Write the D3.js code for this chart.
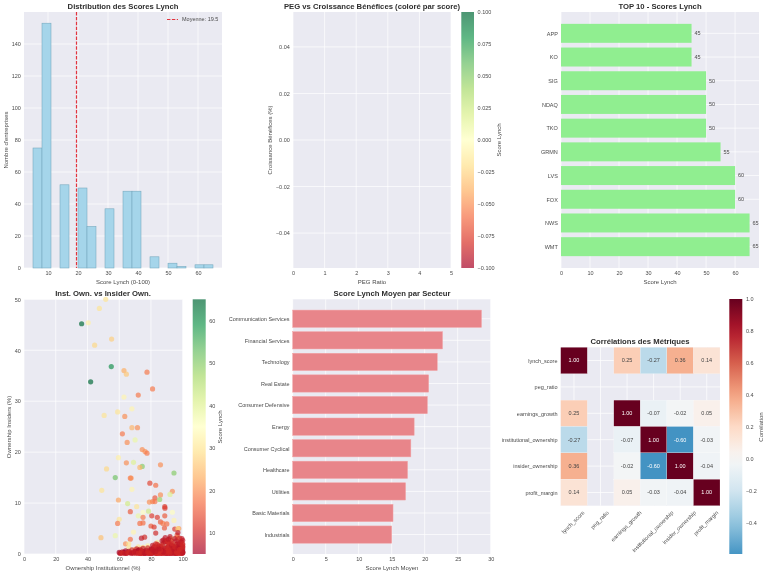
<!DOCTYPE html>
<html><head><meta charset="utf-8">
<script src="https://cdn.jsdelivr.net/npm/d3@7"></script>
<style>
html,body{margin:0;padding:0;background:#fff}
svg{display:block;filter:blur(0.3px)}
text{font-family:"Liberation Sans",Arial,sans-serif;fill:#444}
.title{font-weight:bold;fill:#2e2e2e;font-size:7.7px;text-anchor:middle}
.lab{font-size:6px;text-anchor:middle;fill:#4a4a4a}
.tick text{font-size:5.5px;fill:#4a4a4a}
</style></head><body>
<svg id="c" width="768" height="575"></svg>
<script>
// Histogram
const histEdges=[5,8,11,14,17,20,23,26,29,32,35,38,41,44,47,50,53,56,59,62,65];
const histCounts=[75,153,0,52,0,50,26,0,37,0,48,48,0,7,0,3,1,0,2,2];
const meanScore=19.5;
// Top 10
const topTickers=["WMT","NWS","FOX","LVS","GRMN","TKO","NDAQ","SIG","KO","APP"];
const topScores=[65,65,60,60,55,50,50,50,45,45];
// Sectors
const sectors=["Industrials","Basic Materials","Utilities","Healthcare","Consumer Cyclical","Energy","Consumer Defensive","Real Estate","Technology","Financial Services","Communication Services"];
const sectorScores=[15.0,15.2,17.1,17.4,17.9,18.4,20.4,20.6,21.9,22.7,28.6];
// Scatter: institutional %, insider %, score
const instOwn=[36.3,40.5,47.5,51.5,55.2,44.5,55,42,63,64.5,
77.5,81,72,63,68,59,50.5,63.5,68,71.5,
62,65,70,74.5,76.3,77.5,59.5,64.5,69,74.5,
73,86,52,57.5,67,67.5,94.5,79.3,83,49,
68,93.5,92,86,82.5,81,79,82.5,59.5,85.5,
65.3,71,88.7,88.8,67,78.5,75,93.5,72,75,
80.5,84,88.7,86,87.5,94.5,60,59,73,75,
90,80,82,88.5,95,97.5,97,69,83,96.5,
96.5,48.5,57.5,74,76,67,92,99.5,64,66,
72,75,78,84,88,93,95,70,66,97,
60,61,62,63,64,65,66,67,68,69,
70,71,72,73,74,75,76,77,78,79,
80,81,82,83,84,85,86,87,88,89,
90,91,92,93,94,95,96,97,98,99,
80.5,82.5,84.5,86.5,88.5,90.5,92.5,94.5,96.5,98.5,
100,99.5,99,98,97,96,95,94,93,92,
91,90,89,88,87,86,85,84,83,82,
81,80,79,78,77,76,75,74,73,72,
100,100,100,100,99,99,98,97,96,95,
60.5,62.5,64.5,66.5,68.5,70.5,72.5,74.5,76.5,78.5,
61.5,63.5,65.5,67.5,69.5,71.5,73.5,75.5,77.5,79.5,
80,82,84,86,88,90,92,94,96,98,
81,83,85,87,89,91,93,95,97,99,
80.5,82.5,84.5,86.5,88.5,90.5,92.5,94.5,96.5,98.5,
81.5,83.5,85.5,87.5,89.5,91.5,93.5,95.5,97.5,99.5,
70,72,74,76,78,80,82,84,86,88,
90,92,94,96,98,100,91,93,95,97,
99,100,98,96,94,92,90,88,86,84,
85,87,89,91,93,95,97,99,100,98,
88,89,90,91,92,93,95,96,97,98,
99,100,87,86,85,84,83,82,81,100];
const insiderOwn=[45.2,45.4,48.2,50,42.2,41,36.8,33.8,36,35.3,
35.7,32.4,31.2,30.8,28.5,27.9,27.2,27,24.8,24.8,
23.6,21.9,22.4,20.5,20.1,19.8,18.9,17.9,18,17.2,
17,17.5,16.7,15,14.9,14.9,15.9,13.9,13.5,12.5,
12.7,12.3,11.7,11.6,11,10.3,10.2,10.3,10.6,10.7,
9.9,9.3,9.3,9,8.3,8.4,8.2,8.2,7.5,7.2,
7.5,7.2,7.5,6.3,6,6.6,6.8,6,6,6.1,
5.9,5.5,5.3,5.1,4.9,5,5,4.3,4.1,3.7,
3.2,3.2,3.6,3.1,3.3,2.9,3,3,2,2,
1.4,1.3,1.6,2.3,1.9,3,2,0.9,1.2,1.3,
0.3,0.2,0.4,0.3,0.6,0.2,0.5,0.3,0.8,0.2,
0.5,1,0.3,0.9,0.3,1.1,0.5,0.2,1.2,0.6,
0.4,1.7,0.9,2,0.3,0.8,1.4,0.3,2.2,0.7,
0.3,1.5,0.9,2.6,0.4,1.2,0.2,2.2,0.7,1.6,
1,0.2,1.3,0.6,1.2,2.3,0.2,0.8,1.4,0.3,
0.2,0.8,0.1,1.9,0.5,1.9,0.1,1.6,0.4,1.9,
0.1,1.2,0.1,0.5,1,0.1,0.4,1.1,0.2,1.3,
0.2,0.9,0.1,0.3,0.7,0.1,0.2,0.6,0.1,0.7,
1,1.8,2.7,0.5,0.4,2.4,1.2,1,0.7,0.4,
0.1,0.2,0.1,0.3,0.2,0.1,0.4,0.1,0.2,0.1,
0.2,0.1,0.3,0.1,0.4,0.2,0.1,0.3,0.2,0.4,
0.1,0.3,0.1,0.5,0.2,0.1,0.6,0.2,0.1,0.4,
0.7,0.2,0.9,0.1,0.4,0.8,0.2,0.6,0.1,0.9,
0.1,0.5,0.2,0.9,0.3,0.6,0.1,1.1,0.3,0.8,
0.6,0.1,0.8,0.2,1.2,0.4,1,0.2,0.7,0.1,
0.4,0.2,0.5,0.2,0.4,0.2,0.5,0.3,0.2,0.4,
0.2,0.5,0.2,0.4,0.2,0.3,1.3,1.1,0.9,0.2,
0.5,1.4,0.3,0.6,1.1,0.2,0.6,0.4,0.7,0.2,
1.6,1.8,2.4,2.2,1.7,1.4,1.2,0.9,0.3,0.9,
2.8,3.2,2.6,2.9,3.4,2.1,3,2.6,4.2,3.1,
2.4,2,2.6,1.5,1,1.9,0.5,1.5,0.8,1.4];
const lynchScore=[65,32,30,30,27,28,60,65,23,26,
18,18,18,33,33,30,30,20,24,20,
18,20,38,20,20,18,32,20,40,50,
24,20,28,52,18,20,50,13,17,30,
33,20,40,20,15,18,20,18,22,48,
42,30,12,12,15,42,35,35,38,18,
12,12,15,15,18,33,30,18,17,17,
17,15,12,15,12,20,28,33,10,14,
18,25,38,8,10,17,8,8,20,30,
30,28,32,30,35,28,25,25,30,25,
5,5,8,5,5,8,5,5,10,5,
5,8,5,10,5,8,5,5,10,5,
5,8,5,10,5,8,10,5,8,5,
5,8,5,10,5,5,5,8,5,8,
5,5,8,5,5,10,5,8,5,5,
5,5,5,8,5,8,5,8,5,10,
5,8,5,5,8,5,5,8,5,8,
5,8,5,5,8,5,5,8,5,5,
8,10,8,5,5,10,8,5,5,5,
8,10,8,10,8,10,8,10,8,10,
10,8,10,8,10,8,10,8,10,8,
10,10,8,10,10,8,10,10,8,10,
10,8,10,10,8,10,10,8,10,10,
8,10,10,8,10,10,8,10,10,8,
10,10,8,10,10,8,10,10,8,10,
8,10,10,8,10,10,8,10,10,8,
10,10,8,10,10,8,10,10,8,10,
10,8,10,10,8,10,10,8,10,10,
8,10,8,10,8,10,8,10,8,10,
8,8,10,8,8,10,8,8,8,10,
8,10,8,10,8,10,8,10,8,10];
// Correlations
const metrics=["lynch_score","peg_ratio","earnings_growth","institutional_ownership","insider_ownership","profit_margin"];
const corrMatrix=[[1,null,0.25,-0.27,0.36,0.14],[null,null,null,null,null,null],[0.25,null,1,-0.07,-0.02,0.05],[-0.27,null,-0.07,1,-0.60,-0.03],[0.36,null,-0.02,-0.60,1,-0.04],[0.14,null,0.05,-0.03,-0.04,1]];
// Colormaps
const rdYlGnStops=["#a50026","#d73027","#f46d43","#fdae61","#fee08b","#ffffbf","#d9ef8b","#a6d96a","#66bd63","#1a9850","#006837"];
const rdBuRStops=["#053061","#2166ac","#4393c3","#92c5de","#d1e5f0","#f7f7f7","#fddbc7","#f4a582","#d6604d","#b2182b","#67001f"];

const svg=d3.select("#c");
const defs=svg.append("defs");
const BG="#EAEAF2";
const rdYlGn=d3.piecewise(d3.interpolateRgb,rdYlGnStops);
const rdBuR=d3.piecewise(d3.interpolateRgb,rdBuRStops);
let gid=0;

function panel(b,xs,ys,xt,yt,xf,yf){
  const g=svg.append("g");
  g.append("rect").attr("x",b.l).attr("y",b.t).attr("width",b.r-b.l).attr("height",b.b-b.t).attr("fill",BG);
  g.append("g").selectAll("line").data(xt).join("line").attr("x1",xs).attr("x2",xs).attr("y1",b.t).attr("y2",b.b).attr("stroke","#fff").attr("stroke-width",.7);
  g.append("g").selectAll("line").data(yt).join("line").attr("y1",ys).attr("y2",ys).attr("x1",b.l).attr("x2",b.r).attr("stroke","#fff").attr("stroke-width",.7);
  const ax=g.append("g").attr("class","xaxis").attr("transform",`translate(0,${b.b})`).call(d3.axisBottom(xs).tickValues(xt).tickSize(0).tickPadding(3).tickFormat(xf||d3.format("d")));
  const ay=g.append("g").attr("transform",`translate(${b.l},0)`).call(d3.axisLeft(ys).tickValues(yt).tickSize(0).tickPadding(3.2).tickFormat(yf||d3.format("d")));
  ax.select(".domain").remove(); ay.select(".domain").remove();
  return g;
}
function title(x,y,t){svg.append("text").attr("class","title").attr("x",x).attr("y",y).attr("dy","0.35em").text(t);}
function xlabel(x,y,t){svg.append("text").attr("class","lab").attr("x",x).attr("y",y).attr("dy","0.35em").text(t);}
function ylabel(x,y,t){svg.append("text").attr("class","lab").attr("transform",`translate(${x},${y}) rotate(-90)`).attr("dy","0.35em").text(t);}
function colorbar(x0,x1,t,b,dom,cfn,ticks,fmt,op){
  const id="g"+(gid++);
  const lg=defs.append("linearGradient").attr("id",id).attr("x1",0).attr("x2",0).attr("y1",1).attr("y2",0);
  d3.range(0,1.0001,0.05).forEach(u=>lg.append("stop").attr("offset",u).attr("stop-color",cfn(dom[0]+u*(dom[1]-dom[0]))));
  svg.append("rect").attr("x",x0).attr("y",t).attr("width",x1-x0).attr("height",b-t).attr("fill",`url(#${id})`).attr("opacity",op);
  const s=d3.scaleLinear().domain(dom).range([b,t]);
  const a=svg.append("g").attr("transform",`translate(${x1},0)`).call(d3.axisRight(s).tickValues(ticks).tickSize(0).tickPadding(3.6).tickFormat(fmt));
  a.select(".domain").remove();
}

// 1. Histogram
{
  const b={l:24,r:222,t:12,b:268};
  const x=d3.scaleLinear().domain([2,68]).range([b.l,b.r]);
  const y=d3.scaleLinear().domain([0,160]).range([b.b,b.t]);
  const g=panel(b,x,y,[10,20,30,40,50,60],[0,20,40,60,80,100,120,140]);
  g.append("g").selectAll("rect").data(histCounts).join("rect")
   .attr("x",(d,i)=>x(histEdges[i])).attr("width",(d,i)=>x(histEdges[i+1])-x(histEdges[i]))
   .attr("y",d=>y(d)).attr("height",d=>y(0)-y(d))
   .attr("fill","#A5D5EA").attr("stroke","#74A6BC").attr("stroke-width",.55);
  g.append("line").attr("x1",x(meanScore)).attr("x2",x(meanScore)).attr("y1",b.t).attr("y2",b.b).attr("stroke","#E2343F").attr("stroke-width",1.2).attr("stroke-dasharray","3.4,1.5");
  g.append("line").attr("x1",167).attr("x2",178).attr("y1",19.5).attr("y2",19.5).attr("stroke","#E2343F").attr("stroke-width",1.2).attr("stroke-dasharray","3.4,1.5");
  g.append("text").attr("x",182).attr("y",19.5).attr("dy","0.35em").style("font-size","5.5px").style("fill","#4a4a4a").text("Moyenne: "+meanScore);
  title(123,6.7,"Distribution des Scores Lynch");
  xlabel(123,281.7,"Score Lynch (0-100)");
  ylabel(6,140,"Nombre d'entreprises");
}
// 2. Empty scatter
{
  const b={l:293,r:451,t:12,b:268};
  const x=d3.scaleLinear().domain([0,5]).range([b.l,b.r]);
  const y=d3.scaleLinear().domain([-0.055,0.055]).range([b.b,b.t]);
  panel(b,x,y,[0,1,2,3,4,5],[-0.04,-0.02,0,0.02,0.04],null,d3.format(".2f"));
  const c=d3.scaleLinear().domain([-0.1,0.1]).range([0,1]);
  colorbar(461.3,474,12,268,[-0.1,0.1],v=>rdYlGn(c(v)),[-0.1,-0.075,-0.05,-0.025,0,0.025,0.05,0.075,0.1],d3.format(".3f"),.7);
  title(372,6.7,"PEG vs Croissance Bénéfices (coloré par score)");
  xlabel(372,281.7,"PEG Ratio");
  ylabel(269.8,140,"Croissance Bénéfices (%)");
  ylabel(498.5,140,"Score Lynch");
}
// 3. Top 10
{
  const b={l:561,r:759,t:12,b:268};
  const x=d3.scaleLinear().domain([0,68.25]).range([b.l,b.r]);
  const y=d3.scaleLinear().domain([-0.9,9.9]).range([b.b,b.t]);
  const g=panel(b,x,y,[0,10,20,30,40,50,60],d3.range(10),null,i=>topTickers[i]);
  g.append("g").selectAll("rect").data(topScores).join("rect")
   .attr("x",x(0)).attr("width",d=>x(d)-x(0)).attr("y",(d,i)=>y(i+0.4)).attr("height",(d,i)=>y(i-0.4)-y(i+0.4)).attr("fill","#90EE90");
  g.append("g").selectAll("text").data(topScores).join("text")
   .attr("x",d=>x(d)+3).attr("y",(d,i)=>y(i)).attr("dy","0.32em").style("font-size","5.5px").style("fill","#4a4a4a").text(d=>d);
  title(660,6.7,"TOP 10 - Scores Lynch");
  xlabel(660,281.7,"Score Lynch");
}
// 4. Ownership scatter
{
  const b={l:24,r:182.7,t:299.3,b:554};
  const x=d3.scaleLinear().domain([0,100]).range([b.l,b.r]);
  const y=d3.scaleLinear().domain([0,50]).range([b.b,b.t]);
  const g=panel(b,x,y,[0,20,40,60,80,100],[0,10,20,30,40,50]);
  const c=d3.scaleLinear().domain([5,65]).range([0,1]);
  g.append("g").selectAll("circle").data(instOwn).join("circle")
   .attr("cx",d=>x(d)).attr("cy",(d,i)=>y(insiderOwn[i])).attr("r",2.6)
   .attr("fill",(d,i)=>rdYlGn(c(lynchScore[i]))).attr("fill-opacity",.68);
  colorbar(192.7,205.7,299.3,554,[5,65],v=>rdYlGn(c(v)),[10,20,30,40,50,60],d3.format("d"),.7);
  title(103,293.3,"Inst. Own. vs Insider Own.");
  xlabel(103,568,"Ownership Institutionnel (%)");
  ylabel(8.7,427,"Ownership Insiders (%)");
  ylabel(219.7,427,"Score Lynch");
}
// 5. Sectors
{
  const b={l:292.7,r:490.7,t:299.3,b:554};
  const x=d3.scaleLinear().domain([0,30]).range([b.l,b.r]);
  const y=d3.scaleLinear().domain([-0.9,10.9]).range([b.b,b.t]);
  const g=panel(b,x,y,[0,5,10,15,20,25,30],d3.range(11),null,i=>sectors[i]);
  g.append("g").selectAll("rect").data(sectorScores).join("rect")
   .attr("x",x(0)).attr("width",d=>x(d)-x(0)).attr("y",(d,i)=>y(i+0.4)).attr("height",(d,i)=>y(i-0.4)-y(i+0.4))
   .attr("fill","#E8858A").attr("stroke","#F2A3A5").attr("stroke-width",.5);
  title(392,293.3,"Score Lynch Moyen par Secteur");
  xlabel(392,568,"Score Lynch Moyen");
}
// 6. Heatmap
{
  const b={l:560.7,r:720,t:347.3,b:505.7};
  const n=metrics.length;
  const x=d3.scaleLinear().domain([0,n]).range([b.l,b.r]);
  const y=d3.scaleLinear().domain([0,n]).range([b.t,b.b]);
  const ctr=d3.range(n).map(i=>i+0.5);
  const g=panel(b,x,y,ctr,ctr,i=>metrics[i-0.5],i=>metrics[i-0.5]);
  const col=d3.scaleLinear().domain([-1,1]).range([0,1]);
  const cells=corrMatrix.flatMap((r,i)=>r.map((v,j)=>({i,j,v}))).filter(d=>d.v!==null);
  g.append("g").selectAll("rect").data(cells).join("rect")
   .attr("x",d=>x(d.j)).attr("y",d=>y(d.i)).attr("width",x(1)-x(0)).attr("height",y(1)-y(0))
   .attr("fill",d=>rdBuR(col(d.v))).attr("stroke","#fff").attr("stroke-width",.2);
  g.append("g").selectAll("text").data(cells).join("text")
   .attr("x",d=>x(d.j+0.5)).attr("y",d=>y(d.i+0.5)).attr("dy","0.35em").attr("text-anchor","middle")
   .style("font-size","5.5px").style("fill",d=>Math.abs(d.v)>=0.55?"#fff":"#444").text(d=>d.v.toFixed(2));
  // rotated labels centred on their cell, top edge of the rotated box 5.5px under the axes
  g.select(".xaxis").selectAll("g.tick text").each(function(){
    const L=this.getComputedTextLength();
    d3.select(this).attr("text-anchor","middle").attr("dy",0).attr("y",0)
      .attr("transform",`translate(0,${5.5+L*Math.SQRT1_2/2+2}) rotate(-45)`);
  });
  colorbar(729.3,742.3,299,554,[-0.594,1],v=>rdBuR(col(v)),[-0.4,-0.2,0,0.2,0.4,0.6,0.8,1],d3.format(".1f"),1);
  title(640,341.7,"Corrélations des Métriques");
  ylabel(761,427,"Corrélation");
}
</script>
</body></html>
